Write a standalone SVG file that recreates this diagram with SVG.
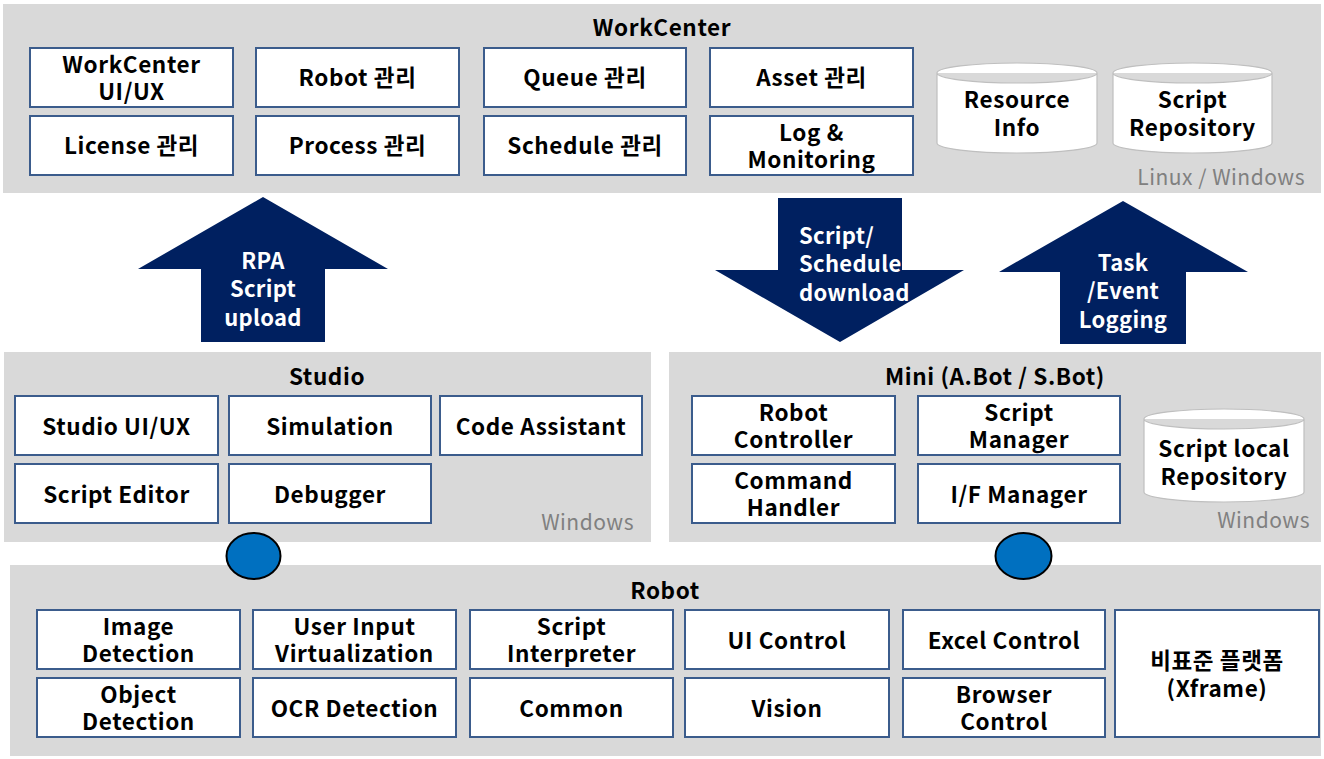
<svg xmlns="http://www.w3.org/2000/svg" width="1324" height="759" viewBox="0 0 1324 759">
<style>
.panel{fill:#D9D9D9;}
.box{fill:#FFFFFF;stroke:#3B5C8C;stroke-width:2;}
.cyl{fill:#FFFFFF;stroke:#BFBFBF;stroke-width:1.2;}
.t{font-family:"Noto Sans CJK KR","Noto Sans",sans-serif;font-weight:bold;font-size:22.5px;letter-spacing:0.6px;fill:#000000;text-anchor:middle;}
.os{font-family:"Noto Sans CJK KR","Noto Sans",sans-serif;font-size:21px;letter-spacing:0.5px;fill:#808080;text-anchor:end;}
.arrow{fill:#002060;}
.at{font-family:"Noto Sans CJK KR","Noto Sans",sans-serif;font-weight:bold;font-size:22px;letter-spacing:0.3px;fill:#FFFFFF;text-anchor:middle;}
.dot{fill:#0070C0;stroke:#000000;stroke-width:2;}
</style>
<rect width="1324" height="759" fill="#FFFFFF"/>

<g id="workcenter">
<rect class="panel" x="3" y="4" width="1318" height="189"/>
<text class="t" x="662" y="36">WorkCenter</text>
<text class="os" x="1305" y="185">Linux / Windows</text>
</g>
<g id="wc-uiux"><rect class="box" x="30" y="48" width="203" height="59"/><text class="t" x="131.5" y="73">WorkCenter</text><text class="t" x="131.5" y="100">UI/UX</text></g>
<g id="wc-robot"><rect class="box" x="256" y="48" width="203" height="59"/><text class="t" x="357.5" y="86">Robot 관리</text></g>
<g id="wc-queue"><rect class="box" x="484" y="48" width="202" height="59"/><text class="t" x="585" y="86">Queue 관리</text></g>
<g id="wc-asset"><rect class="box" x="710" y="48" width="203" height="59"/><text class="t" x="811.5" y="86">Asset 관리</text></g>
<g id="wc-license"><rect class="box" x="30" y="116" width="203" height="59"/><text class="t" x="131.5" y="154">License 관리</text></g>
<g id="wc-process"><rect class="box" x="256" y="116" width="203" height="59"/><text class="t" x="357.5" y="154">Process 관리</text></g>
<g id="wc-schedule"><rect class="box" x="484" y="116" width="202" height="59"/><text class="t" x="585" y="154">Schedule 관리</text></g>
<g id="wc-log"><rect class="box" x="710" y="116" width="203" height="59"/><text class="t" x="811.5" y="141">Log &amp;</text><text class="t" x="811.5" y="168">Monitoring</text></g>
<g id="wc-resource"><path class="cyl" d="M937,73 A80,10 0 0 1 1097,73 L1097,143 A80,10 0 0 1 937,143 Z M937,73 A80,10 0 0 0 1097,73"/><text class="t" x="1017" y="108">Resource</text><text class="t" x="1017" y="136">Info</text></g>
<g id="wc-script-repo"><path class="cyl" d="M1113,73 A79.5,10 0 0 1 1272,73 L1272,143 A79.5,10 0 0 1 1113,143 Z M1113,73 A79.5,10 0 0 0 1272,73"/><text class="t" x="1192.5" y="108">Script</text><text class="t" x="1192.5" y="136">Repository</text></g>

<g id="studio">
<rect class="panel" x="4" y="352" width="647" height="190"/>
<text class="t" x="327" y="385">Studio</text>
<text class="os" x="634" y="530">Windows</text>
</g>
<g id="st-uiux"><rect class="box" x="15" y="396" width="203" height="59"/><text class="t" x="116.5" y="435">Studio UI/UX</text></g>
<g id="st-sim"><rect class="box" x="229" y="396" width="202" height="59"/><text class="t" x="330" y="435">Simulation</text></g>
<g id="st-code"><rect class="box" x="440" y="396" width="202" height="59"/><text class="t" x="541" y="435">Code Assistant</text></g>
<g id="st-editor"><rect class="box" x="15" y="464" width="203" height="59"/><text class="t" x="116.5" y="503">Script Editor</text></g>
<g id="st-debug"><rect class="box" x="229" y="464" width="202" height="59"/><text class="t" x="330" y="503">Debugger</text></g>

<g id="mini">
<rect class="panel" x="669" y="352" width="652" height="190"/>
<text class="t" x="995" y="385">Mini (A.Bot / S.Bot)</text>
<text class="os" x="1310" y="528">Windows</text>
</g>
<g id="mi-robot"><rect class="box" x="692" y="396" width="203" height="59"/><text class="t" x="793.5" y="421">Robot</text><text class="t" x="793.5" y="448">Controller</text></g>
<g id="mi-script"><rect class="box" x="918" y="396" width="202" height="59"/><text class="t" x="1019" y="421">Script</text><text class="t" x="1019" y="448">Manager</text></g>
<g id="mi-command"><rect class="box" x="692" y="464" width="203" height="59"/><text class="t" x="793.5" y="489">Command</text><text class="t" x="793.5" y="516">Handler</text></g>
<g id="mi-if"><rect class="box" x="918" y="464" width="202" height="59"/><text class="t" x="1019" y="503">I/F Manager</text></g>
<g id="mi-local-repo"><path class="cyl" d="M1144,419 A80,10 0 0 1 1304,419 L1304,492 A80,10 0 0 1 1144,492 Z M1144,419 A80,10 0 0 0 1304,419"/><text class="t" x="1224" y="457">Script local</text><text class="t" x="1224" y="485">Repository</text></g>

<g id="robot">
<rect class="panel" x="10" y="565" width="1311" height="191"/>
<text class="t" x="665" y="599">Robot</text>
</g>
<g id="rb-image"><rect class="box" x="37" y="610" width="203" height="59"/><text class="t" x="138.5" y="635">Image</text><text class="t" x="138.5" y="662">Detection</text></g>
<g id="rb-input"><rect class="box" x="253" y="610" width="203" height="59"/><text class="t" x="354.5" y="635">User Input</text><text class="t" x="354.5" y="662">Virtualization</text></g>
<g id="rb-interp"><rect class="box" x="470" y="610" width="203" height="59"/><text class="t" x="571.5" y="635">Script</text><text class="t" x="571.5" y="662">Interpreter</text></g>
<g id="rb-ui"><rect class="box" x="685" y="610" width="204" height="59"/><text class="t" x="787" y="649">UI Control</text></g>
<g id="rb-excel"><rect class="box" x="903" y="610" width="202" height="59"/><text class="t" x="1004" y="649">Excel Control</text></g>
<g id="rb-object"><rect class="box" x="37" y="678" width="203" height="59"/><text class="t" x="138.5" y="703">Object</text><text class="t" x="138.5" y="730">Detection</text></g>
<g id="rb-ocr"><rect class="box" x="253" y="678" width="203" height="59"/><text class="t" x="354.5" y="717">OCR Detection</text></g>
<g id="rb-common"><rect class="box" x="470" y="678" width="203" height="59"/><text class="t" x="571.5" y="717">Common</text></g>
<g id="rb-vision"><rect class="box" x="685" y="678" width="204" height="59"/><text class="t" x="787" y="717">Vision</text></g>
<g id="rb-browser"><rect class="box" x="903" y="678" width="202" height="59"/><text class="t" x="1004" y="703">Browser</text><text class="t" x="1004" y="730">Control</text></g>
<g id="rb-xframe"><rect class="box" x="1115" y="610" width="204" height="127"/><text class="t" x="1217" y="669">비표준 플랫폼</text><text class="t" x="1217" y="697">(Xframe)</text></g>

<g id="connectors">
<g id="arrow-upload"><path class="arrow" d="M263,197 L388,269 L325,269 L325,342 L201,342 L201,269 L138,269 Z"/><text class="at" x="263" y="269">RPA</text><text class="at" x="263" y="297">Script</text><text class="at" x="263" y="326">upload</text></g>
<g id="arrow-download"><path class="arrow" d="M778,198 L902,198 L902,270 L964,270 L840,342 L715,270 L778,270 Z"/><text class="at" x="799" y="244" style="text-anchor:start">Script/</text><text class="at" x="799" y="272" style="text-anchor:start">Schedule</text><text class="at" x="799" y="301" style="text-anchor:start">download</text></g>
<g id="arrow-logging"><path class="arrow" d="M1123,201 L1248,272 L1186,272 L1186,344 L1060,344 L1060,272 L999,272 Z"/><text class="at" x="1123" y="271">Task</text><text class="at" x="1123" y="299">/Event</text><text class="at" x="1123" y="328">Logging</text></g>
<ellipse class="dot" cx="253.5" cy="556" rx="27" ry="23"/>
<ellipse class="dot" cx="1023.5" cy="556" rx="28" ry="23"/>
</g>
</svg>
